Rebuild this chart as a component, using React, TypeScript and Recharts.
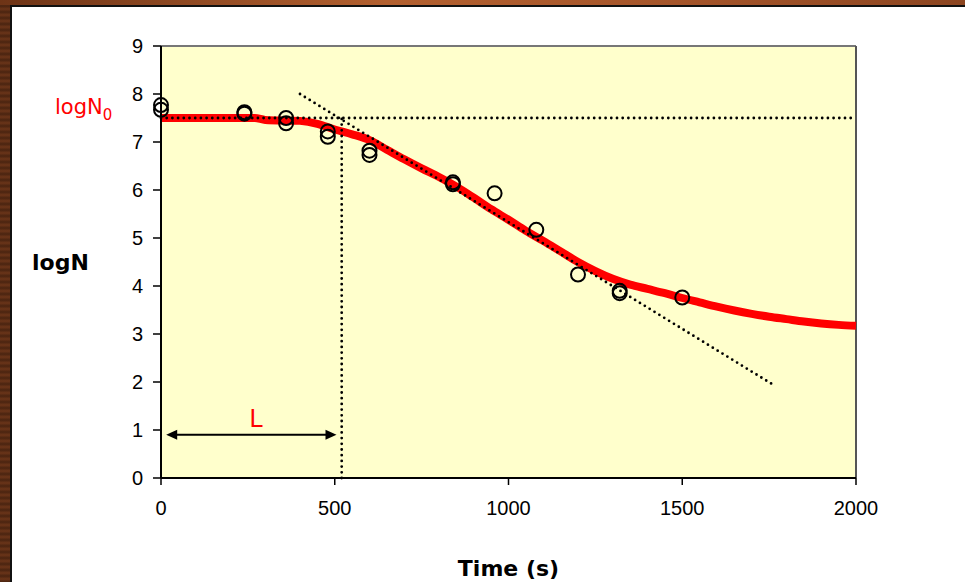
import { ComposedChart, Line, Scatter, XAxis, YAxis, CartesianGrid, ReferenceLine, ReferenceDot } from 'recharts';

// fitted curve (red)
const fitTime = [0, 100, 200, 270, 300, 400, 450, 500, 550, 600, 650, 700, 750, 800, 850, 900, 950, 1000, 1050, 1100, 1150, 1200, 1250, 1300, 1350, 1400, 1450, 1500, 1550, 1600, 1650, 1700, 1750, 1800, 1850, 1900, 1950, 2000];
const fitLogN = [7.5, 7.5, 7.5, 7.5, 7.46, 7.44, 7.38, 7.26, 7.16, 7.04, 6.84, 6.64, 6.45, 6.27, 6.07, 5.84, 5.6, 5.38, 5.15, 4.94, 4.72, 4.5, 4.31, 4.15, 4.03, 3.94, 3.85, 3.75, 3.66, 3.57, 3.49, 3.42, 3.36, 3.31, 3.26, 3.22, 3.19, 3.17];

// measured points (open circles)
const obsTime = [0, 0, 240, 240, 360, 360, 480, 480, 600, 600, 840, 840, 960, 1080, 1200, 1320, 1320, 1500];
const obsLogN = [7.77, 7.67, 7.62, 7.59, 7.5, 7.39, 7.22, 7.11, 6.82, 6.73, 6.16, 6.12, 5.93, 5.17, 4.24, 3.9, 3.85, 3.76];

// tangent through the linear part
const tanTime = [400, 1760];
const tanLogN = [8.0, 1.95];

const logN0 = 7.5;
const lagTime = 520;
const xTicks = [0, 500, 1000, 1500, 2000];
const yTicks = [0, 1, 2, 3, 4, 5, 6, 7, 8, 9];

const fitData = fitTime.map((t, i) => ({ t, v: fitLogN[i] }));
const obsData = obsTime.map((t, i) => ({ t, v: obsLogN[i] }));
const tanData = tanTime.map((t, i) => ({ t, v: tanLogN[i] }));

const tickStyle = { fill: '#000', fontSize: 20, fontFamily: 'Liberation Sans, Arial, sans-serif' };
const handFont = 'DejaVu Sans, sans-serif';
const dotted = { stroke: '#000', strokeWidth: 2.8, strokeDasharray: '0 5.7', strokeLinecap: 'round' as const };

const OpenCircle = (p: any) => (
  <circle cx={p.cx} cy={p.cy} r={7} fill="none" stroke="#000" strokeWidth={2} />
);

const Arrow = (p: any) => {
  const { x1, y1, x2, y2 } = p;
  return (
    <g>
      <line x1={x1 + 8} y1={y1} x2={x2 - 8} y2={y2} stroke="#000" strokeWidth={2} />
      <polygon points={`${x1},${y1} ${x1 + 11},${y1 - 5} ${x1 + 11},${y1 + 5}`} fill="#000" />
      <polygon points={`${x2},${y2} ${x2 - 11},${y2 - 5} ${x2 - 11},${y2 + 5}`} fill="#000" />
    </g>
  );
};

const LogN0Label = (p: any) => {
  const vb = p.viewBox;
  return (
    <text x={vb.x - 106} y={vb.y - 4} fill="#ff0000" fontSize={21} fontFamily={handFont}>
      logN<tspan fontSize={15} dy={6}>0</tspan>
    </text>
  );
};

export default function App() {
  return (
    <div style={{ position: 'fixed', left: 0, top: 0, width: 965, height: 582, background: 'repeating-linear-gradient(180deg, #4a2410 0px, #6b3519 3px, #4a2410 6px)', overflow: 'hidden' }}>
      <div style={{ position: 'absolute', left: 0, top: 0, width: 965, height: 5, background: 'linear-gradient(90deg, #6e3416, #b3602f 40%, #a5552a 70%, #8c4520)' }} />
      <div style={{ position: 'absolute', left: 10, top: 5, right: 0, bottom: 0, background: '#fff', borderLeft: '2px solid #111', borderTop: '2px solid #111' }} />
      <div style={{ position: 'absolute', left: 0, top: 0 }}>
        <ComposedChart width={965} height={582} margin={{ top: 46, right: 109, bottom: 0, left: 0 }}>
          <CartesianGrid horizontal={false} vertical={false} fill="#ffffcc" />
          <XAxis
            type="number"
            dataKey="t"
            domain={[0, 2000]}
            ticks={xTicks}
            height={104}
            tickSize={7}
            tickMargin={16}
            tick={tickStyle}
            axisLine={{ stroke: '#000', strokeWidth: 2 }}
            tickLine={{ stroke: '#000', strokeWidth: 1.5 }}
            label={{ value: 'Time (s)', position: 'insideBottom', offset: 6, fill: '#000', fontSize: 22, fontWeight: 'bold', fontFamily: handFont }}
          />
          <YAxis
            type="number"
            dataKey="v"
            domain={[0, 9]}
            ticks={yTicks}
            width={161}
            tickSize={8}
            tickMargin={10}
            tick={tickStyle}
            axisLine={{ stroke: '#000', strokeWidth: 2 }}
            tickLine={{ stroke: '#000', strokeWidth: 1.5 }}
            label={{ value: 'logN', position: 'insideLeft', offset: 32, fill: '#000', fontSize: 22, fontWeight: 'bold', fontFamily: handFont }}
          />
          <ReferenceLine y={9} stroke="#777" strokeWidth={2} />
          <ReferenceLine x={2000} stroke="#555" strokeWidth={2} />
          <Line data={fitData} dataKey="v" type="monotone" stroke="#ff0000" strokeWidth={8} dot={false} isAnimationActive={false} />
          <ReferenceLine y={logN0} {...dotted} label={<LogN0Label />} />
          <ReferenceLine segment={[{ x: lagTime, y: 0 }, { x: lagTime, y: logN0 }]} {...dotted} />
          <Line data={tanData} dataKey="v" type="linear" {...dotted} dot={false} isAnimationActive={false} />
          <Scatter data={obsData} dataKey="v" shape={<OpenCircle />} isAnimationActive={false} />
          <ReferenceLine segment={[{ x: 15, y: 0.9 }, { x: 505, y: 0.9 }]} shape={<Arrow />} />
          <ReferenceDot x={273} y={1.23} r={0} fill="none" stroke="none" label={{ value: 'L', position: 'center', fill: '#ff0000', fontSize: 24, fontFamily: handFont }} />
        </ComposedChart>
      </div>
    </div>
  );
}
